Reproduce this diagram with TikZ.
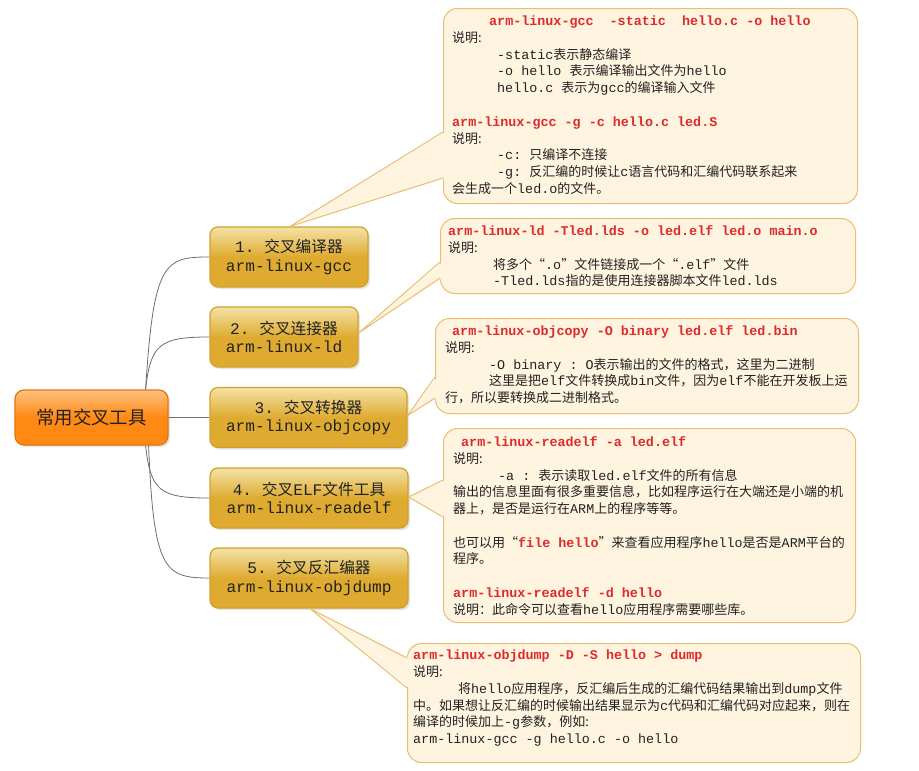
\documentclass[tikz,border=0pt]{standalone}
\usepackage{fontspec}
\setmainfont{Noto Sans CJK SC}
\setmonofont{Liberation Mono}[Scale=1.03]
\usetikzlibrary{calc,shadows,backgrounds}
\definecolor{cmdred}{HTML}{DD2B2B}
\definecolor{callfill}{HTML}{FFF4DF}
\definecolor{callline}{HTML}{E9BE70}
\definecolor{goldhi}{HTML}{F4E2A6}
\definecolor{goldbody}{HTML}{DEAB30}
\definecolor{goldline}{HTML}{D2A02A}
\definecolor{orghi}{HTML}{FFC080}
\definecolor{orgbody}{HTML}{FF8912}
\definecolor{orgline}{HTML}{E5730C}
\definecolor{linkgray}{HTML}{6E6E6E}
\definecolor{txtdark}{HTML}{222222}
\newcommand\tx[1]{\texttt{#1}}
\newcommand\cmd[1]{\textcolor{cmdred}{\ttfamily\bfseries #1}}
\newcommand\fstline{\rule{0pt}{13pt}}
\newcommand\callptr[4]{%
  \fill[callfill] ($(#1.north west)+(2.5,#3)$) -- (#2) -- ($(#1.north west)+(2.5,#4)$) -- cycle;
  \draw[callline, line width=1pt, line join=round] ($(#1.north west)+(0,#3)$) -- (#2) -- ($(#1.north west)+(0,#4)$);}
\begin{document}
\begin{tikzpicture}[x=1pt,y=-1pt,
  rootbox/.style={draw=orgline, line width=1.2pt, rounded corners=9pt,
    top color=orghi, bottom color=orgbody, middle color=orgbody,
    minimum width=153pt, minimum height=55pt, inner sep=0pt,
    font=\fontsize{18.4}{22}\selectfont, text=txtdark,
    drop shadow={opacity=0.2,shadow xshift=2pt,shadow yshift=-2pt}},
  toolbox/.style={draw=goldline, line width=1.2pt, rounded corners=8pt,
    top color=goldhi, bottom color=goldbody, middle color=goldbody,
    minimum height=60pt, inner sep=0pt, align=center,
    font=\fontsize{15.7}{18.7}\selectfont, text=txtdark,
    drop shadow={opacity=0.2,shadow xshift=2pt,shadow yshift=-2pt}},
  callbox/.style={draw=callline, line width=1pt, fill=callfill,
    rounded corners=14pt, inner sep=0pt, anchor=north west},
  calltext/.style={anchor=north west, inner sep=0pt, align=left,
    font=\fontsize{13}{16.8}\selectfont, text=txtdark},
  link/.style={draw=linkgray, line width=0.8pt}
]
\useasboundingbox (0,0) rectangle (919,771);

% tree nodes
\node[rootbox] (root) at (91.5,417.5) {常用交叉工具};
\node[toolbox, minimum width=158pt] (n1) at (289,257) {\tx{1. }交叉编译器\\\tx{arm-linux-gcc}};
\node[toolbox, minimum width=148pt] (n2) at (284,337) {\tx{2. }交叉连接器\\\tx{arm-linux-ld}};
\node[toolbox, minimum width=197pt] (n3) at (308.5,417.5) {\tx{3. }交叉转换器\\\tx{arm-linux-objcopy}};
\node[toolbox, minimum width=198pt] (n4) at (309,498) {\tx{4. }交叉\tx{ELF}文件工具\\\tx{arm-linux-readelf}};
\node[toolbox, minimum width=198pt] (n5) at (309,578) {\tx{5. }交叉反汇编器\\\tx{arm-linux-objdump}};

\begin{scope}[on background layer]
  \fill[white] (0,0) rectangle (919,771);
  \draw[link] ([xshift=-23pt]root.north east) .. controls +(8,-128) and +(-45,0) .. (n1.west);
  \draw[link] ([xshift=-23pt]root.north east) .. controls +(5,-45) and +(-50,0) .. (n2.west);
  \draw[link] (root.east) -- (n3.west);
  \draw[link] ([xshift=-23pt]root.south east) .. controls +(5,45) and +(-50,0) .. (n4.west);
  \draw[link] ([xshift=-20pt]root.south east) .. controls +(5,125) and +(-45,0) .. (n5.west);
\end{scope}

% callout boxes
\node[callbox, minimum width=414pt, minimum height=195pt] (c1) at (443,8) {};
\node[callbox, minimum width=415pt, minimum height=75pt] (c2) at (440,218) {};
\node[callbox, minimum width=423pt, minimum height=95pt] (c3) at (435,318) {};
\node[callbox, minimum width=412pt, minimum height=194pt] (c4) at (443,428) {};
\node[callbox, minimum width=453pt, minimum height=119pt] (c5) at (407,643) {};

\callptr{c1}{[xshift=1pt]n1.north}{124}{170}
\callptr{c2}{[yshift=4pt]n2.east}{44}{60}
\callptr{c3}{[yshift=2pt]n3.east}{59}{80}
\callptr{c4}{[yshift=1pt]n4.east}{52}{89}
\callptr{c5}{[xshift=1pt]n5.south}{15}{45}

% callout texts
\node[calltext] (t1) at (452,12.2) {\fstline\hspace*{37pt}\cmd{arm-linux-gcc~~-static~~hello.c -o hello}\\
说明:\\
\hspace*{45pt}\tx{-static}表示静态编译\\
\hspace*{45pt}\tx{-o hello }表示编译输出文件为\tx{hello}\\
\hspace*{45pt}\tx{hello.c }表示为\tx{gcc}的编译输入文件\\[16.8pt]
\cmd{arm-linux-gcc -g -c hello.c led.S}\\
说明:\\
\hspace*{45pt}\tx{-c: }只编译不连接\\
\hspace*{45pt}\tx{-g: }反汇编的时候让\tx{c}语言代码和汇编代码联系起来\\
会生成一个\tx{led.o}的文件。};

\node[calltext] (t2) at (448,222.2) {\fstline\cmd{arm-linux-ld -Tled.lds -o led.elf led.o main.o}\\
说明:\\
\hspace*{45pt}将多个“\tx{.o}”文件链接成一个“\tx{.elf}”文件\\
\hspace*{45pt}\tx{-Tled.lds}指的是使用连接器脚本文件\tx{led.lds}};

\node[calltext] (t3) at (445,322.2) {\fstline\hspace*{7pt}\cmd{arm-linux-objcopy -O binary led.elf led.bin}\\
说明:\\
\hspace*{44pt}\tx{-O binary : O}表示输出的文件的格式，这里为二进制\\
\hspace*{44pt}这里是把\tx{elf}文件转换成\tx{bin}文件，因为\tx{elf}不能在开发板上运\\
行，所以要转换成二进制格式。};

\node[calltext] (t4) at (453,433.2) {\fstline\hspace*{8pt}\cmd{arm-linux-readelf -a led.elf}\\
说明:\\
\hspace*{45pt}\tx{-a : }表示读取\tx{led.elf}文件的所有信息\\
输出的信息里面有很多重要信息，比如程序运行在大端还是小端的机\\
器上，是否是运行在\tx{ARM}上的程序等等。\\[16.6pt]
也可以用“\cmd{file hello}”来查看应用程序\tx{hello}是否是\tx{ARM}平台的\\
程序。\\[16.6pt]
\cmd{arm-linux-readelf -d hello}\\
说明：此命令可以查看\tx{hello}应用程序需要哪些库。};

\node[calltext] (t5) at (413,646.5) {\fstline\cmd{arm-linux-objdump -D -S hello > dump}\\
说明:\\
\hspace*{45pt}将\tx{hello}应用程序，反汇编后生成的汇编代码结果输出到\tx{dump}文件\\
中。如果想让反汇编的时候输出结果显示为\tx{c}代码和汇编代码对应起来，则在\\
编译的时候加上\tx{-g}参数，例如:\\
\tx{arm-linux-gcc -g hello.c -o hello}};
\end{tikzpicture}
\end{document}
